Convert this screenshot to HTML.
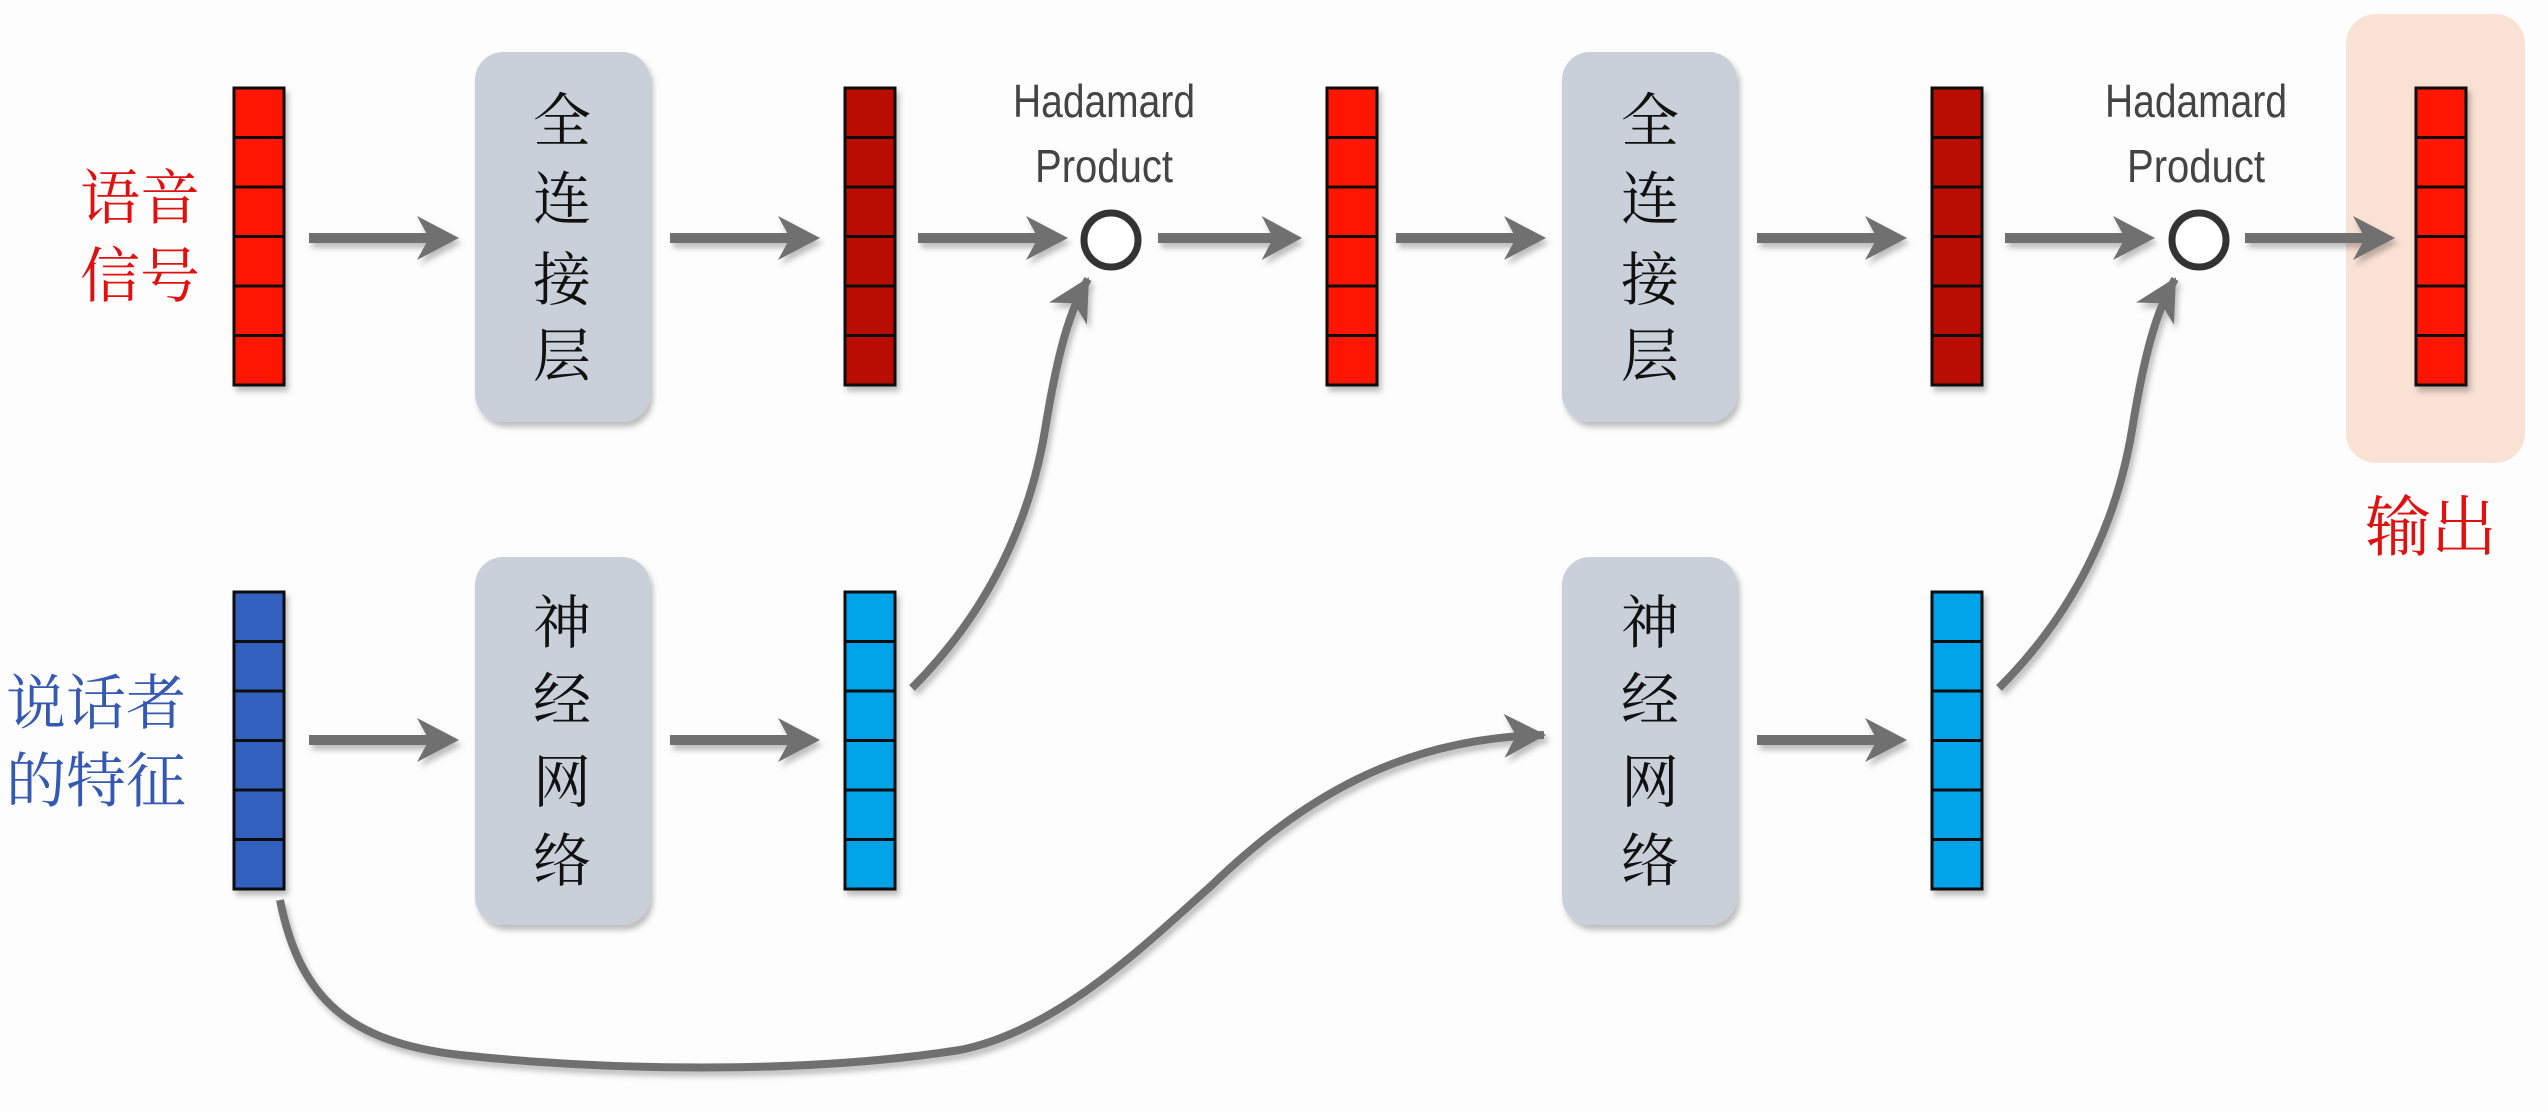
<!DOCTYPE html>
<html><head><meta charset="utf-8"><style>
html,body{margin:0;padding:0;background:#fdfdfd;}
svg{display:block;}
.cn{font-family:"Liberation Serif","Noto Serif CJK SC",serif;}
</style></head><body>
<svg width="2548" height="1113" viewBox="0 0 2548 1113" xmlns="http://www.w3.org/2000/svg">
<defs>
<filter id="sh" x="-20%" y="-20%" width="140%" height="140%"><feDropShadow dx="3" dy="5" stdDeviation="3" flood-color="#000" flood-opacity="0.25"/></filter>
<marker id="ah" viewBox="0 0 44 44" refX="40" refY="22" markerWidth="44" markerHeight="44" markerUnits="userSpaceOnUse" orient="auto">
<polygon points="42,22 0,0 12,22 0,44" fill="#707070"/></marker>
<g id="bar">
<rect x="0" y="0" width="50" height="297" stroke="#111" stroke-width="3"/>
<g stroke="#111" stroke-width="3"><line x1="0" y1="49.5" x2="50" y2="49.5"/><line x1="0" y1="99" x2="50" y2="99"/><line x1="0" y1="148.5" x2="50" y2="148.5"/><line x1="0" y1="198" x2="50" y2="198"/><line x1="0" y1="247.5" x2="50" y2="247.5"/></g>
</g>
<g id="arr" fill="#707070"><rect x="0" y="-5" width="120" height="10"/><polygon points="150,0 108,-22 120,0 108,22"/></g>
</defs>

<!-- output box -->
<rect x="2346" y="14" width="179" height="449" rx="30" fill="#f9e1d3"/>

<!-- blocks -->
<g fill="#c9d0d9" filter="url(#sh)">
<rect x="475" y="52" width="175" height="370" rx="28"/>
<rect x="1562" y="52" width="175" height="370" rx="28"/>
<rect x="475" y="557" width="175" height="368" rx="28"/>
<rect x="1562" y="557" width="175" height="368" rx="28"/>
</g>
<g class="cn" font-size="58" text-anchor="middle" fill="#111">
<text x="562" y="141">全</text><text x="562" y="219">连</text><text x="562" y="300">接</text><text x="562" y="376">层</text>
<text x="1650" y="141">全</text><text x="1650" y="219">连</text><text x="1650" y="300">接</text><text x="1650" y="376">层</text>
<text x="562" y="643">神</text><text x="562" y="720">经</text><text x="562" y="802">网</text><text x="562" y="881">络</text>
<text x="1650" y="643">神</text><text x="1650" y="720">经</text><text x="1650" y="802">网</text><text x="1650" y="881">络</text>
</g>

<!-- bars -->
<g filter="url(#sh)">
<use href="#bar" x="234" y="88" fill="#ff1200"/>
<use href="#bar" x="845" y="88" fill="#b80b00"/>
<use href="#bar" x="1327" y="88" fill="#ff1200"/>
<use href="#bar" x="1932" y="88" fill="#b80b00"/>
<use href="#bar" x="2416" y="88" fill="#ff1200"/>
<use href="#bar" x="234" y="592" fill="#3361be"/>
<use href="#bar" x="845" y="592" fill="#00a3e8"/>
<use href="#bar" x="1932" y="592" fill="#00a3e8"/>
</g>

<!-- labels -->
<g class="cn" font-size="60" fill="#e01010">
<text x="80" y="219">语音</text><text x="80" y="297">信号</text>
<text x="2365" y="550" font-size="66">输出</text>
</g>
<g class="cn" font-size="60" fill="#3558b0">
<text x="6" y="724">说话者</text><text x="6" y="802">的特征</text>
</g>
<g font-family="Liberation Sans, sans-serif" font-size="46" fill="#444" text-anchor="middle">
<text x="1104" y="117" textLength="182" lengthAdjust="spacingAndGlyphs">Hadamard</text>
<text x="1104" y="182" textLength="138" lengthAdjust="spacingAndGlyphs">Product</text>
<text x="2196" y="117" textLength="182" lengthAdjust="spacingAndGlyphs">Hadamard</text>
<text x="2196" y="182" textLength="138" lengthAdjust="spacingAndGlyphs">Product</text>
</g>

<!-- circles -->
<circle cx="1111" cy="240" r="27" fill="#fff" stroke="#333" stroke-width="7"/>
<circle cx="2199" cy="240" r="27" fill="#fff" stroke="#333" stroke-width="7"/>

<!-- straight arrows -->
<g filter="url(#sh)">
<use href="#arr" x="309" y="238"/>
<use href="#arr" x="670" y="238"/>
<use href="#arr" x="918" y="238"/>
<g transform="translate(1158,238) scale(0.96,1)"><use href="#arr"/></g>
<use href="#arr" x="1396" y="238"/>
<use href="#arr" x="1757" y="238"/>
<use href="#arr" x="2005" y="238"/>
<use href="#arr" x="2245" y="238"/>
<use href="#arr" x="309" y="740"/>
<use href="#arr" x="670" y="740"/>
<use href="#arr" x="1757" y="740"/>
</g>

<!-- curves -->
<g fill="none" stroke="#707070" stroke-width="8" filter="url(#sh)">
<path d="M912,688 C990,610 1030,520 1045,430 C1058,350 1070,310 1088,279" marker-end="url(#ah)"/>
<path d="M1999,688 C2077,610 2117,520 2132,430 C2145,350 2157,310 2175,279" marker-end="url(#ah)"/>
<path d="M280,900 C300,1000 350,1042 460,1055 C600,1070 800,1075 960,1050 C1060,1030 1150,940 1211,886 C1300,800 1400,738 1544,735" marker-end="url(#ah)"/>
</g>
</svg>
</body></html>
